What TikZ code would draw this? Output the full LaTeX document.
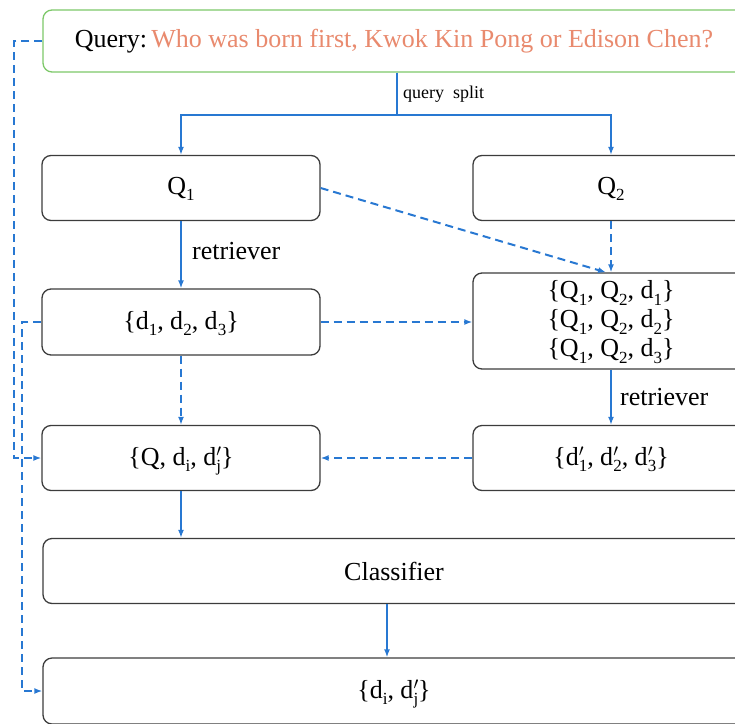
\documentclass[tikz,border=0pt]{standalone}
\usepackage{fontspec}
\setmainfont{Liberation Serif}
\usetikzlibrary{arrows.meta,calc}
\definecolor{flowblue}{RGB}{40,120,210}
\definecolor{boxgray}{RGB}{60,60,60}
\definecolor{qgreen}{RGB}{125,200,105}
\definecolor{qsalmon}{RGB}{233,138,110}
% lowered subscript, as in Times-style typesetting
\newcommand{\sub}[1]{\smash{\raisebox{-0.24em}{\fontsize{17}{20}\selectfont #1}}}
% d with prime and subscript stacked
\newcommand{\dprime}[1]{d\rlap{\raisebox{0.35em}{\fontsize{17}{20}\selectfont$\prime$}}\sub{#1}}
\begin{document}
\begin{tikzpicture}[x=1pt,y=-1pt,
  box/.style={draw=boxgray,line width=1.3pt,rounded corners=9pt,inner sep=0pt,
    fill=white,font=\fontsize{26}{30}\selectfont,align=center},
  flow/.style={draw=flowblue,line width=2pt,-{Latex[length=8pt,width=6pt]}},
  plainflow/.style={draw=flowblue,line width=2pt},
  dflow/.style={draw=flowblue,line width=2pt,dash pattern=on 8pt off 5pt,
    -{Latex[length=8pt,width=6pt]}},
  lbl/.style={font=\fontsize{26}{30}\selectfont,inner sep=0pt,anchor=west}
]
\useasboundingbox (0,0) rectangle (735,723);
\clip (0,0) rectangle (735,723);

% boxes
\node[box,draw=qgreen,minimum width=702pt,minimum height=62pt] (query) at (394,41)
  {Query:\,\textcolor{qsalmon}{Who was born first, Kwok Kin Pong or Edison Chen?}};
\node[box,minimum width=278pt,minimum height=65pt] (q1) at (181,188)
  {Q\sub{1}};
\node[box,minimum width=276pt,minimum height=65pt] (q2) at (611,188)
  {Q\sub{2}};
\node[box,minimum width=278pt,minimum height=66pt] (d) at (181,322)
  {\{d\sub{1}, d\sub{2}, d\sub{3}\}};
\node[box,minimum width=276pt,minimum height=96pt,font=\fontsize{26}{29}\selectfont] (qqd) at (611,321)
  {\{Q\sub{1}, Q\sub{2}, d\sub{1}\}\\
   \{Q\sub{1}, Q\sub{2}, d\sub{2}\}\\
   \{Q\sub{1}, Q\sub{2}, d\sub{3}\}};
\node[box,minimum width=278pt,minimum height=65pt] (qdd) at (181,458)
  {\{Q, d\sub{i}, \dprime{j}\}};
\node[box,minimum width=276pt,minimum height=65pt] (dp) at (611,458)
  {\{\dprime{1}, \dprime{2}, \dprime{3}\}};
\node[box,minimum width=702pt,minimum height=65pt] (cls) at (394,571)
  {Classifier};
\node[box,minimum width=702pt,minimum height=66pt] (fin) at (394,691)
  {\{d\sub{i}, \dprime{j}\}};

% query split
\coordinate (split) at (397,115);
\draw[plainflow] (query.south -| split) -- (split);
\draw[flow] (split) -| (q1.north);
\draw[flow] (split) -| (q2.north);
\node[font=\fontsize{18}{22}\selectfont,inner sep=0pt,anchor=west] (splitlbl) at (403,94) {query~~split};

% left branch
\draw[flow] (q1.south) -- (d.north);
\node[lbl] (ret1) at (192,251) {retriever};
\draw[dflow] (d.south) -- (qdd.north);
\draw[flow] (qdd.south) -- (qdd.south |- cls.north);
\draw[flow] ([xshift=-7pt]cls.south) -- ([xshift=-7pt]cls.south |- fin.north);

% right branch
\draw[dflow] (q2.south) -- (qqd.north);
\draw[dflow] (q1.east) -- ([xshift=-5pt]qqd.north);
\draw[dflow] (d.east) -- (d.east -| qqd.west);
\draw[flow] (qqd.south) -- (dp.north);
\node[lbl] (ret2) at (620,397) {retriever};
\draw[dflow] (dp.west) -- (qdd.east);

% skip connections along the left margin
\draw[dflow] (query.west) -- ++(-28,0) |- (qdd.west);
\draw[dflow] (d.west) -- ++(-19,0) |- (fin.west);
\end{tikzpicture}
\end{document}
